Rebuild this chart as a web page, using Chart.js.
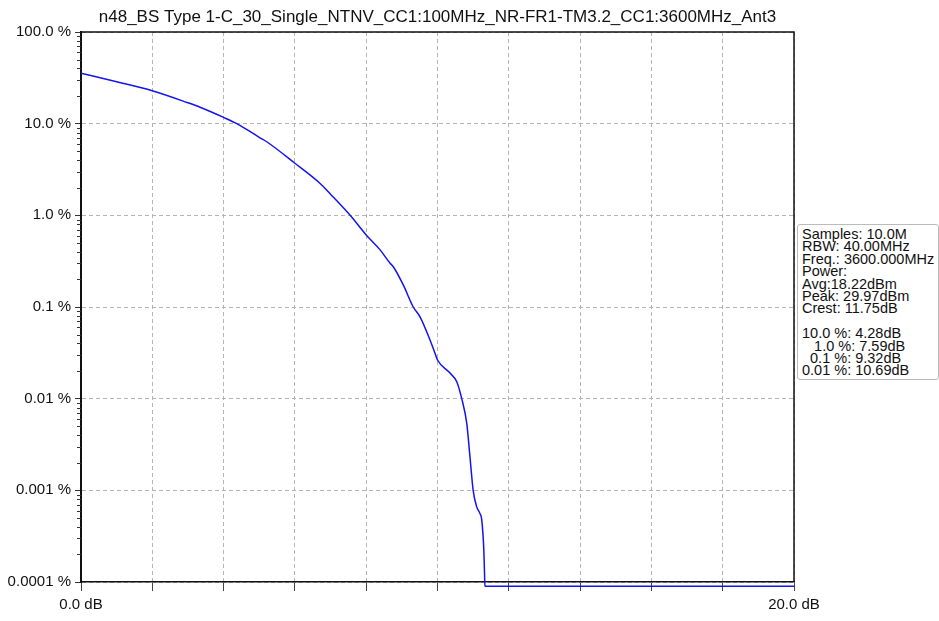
<!DOCTYPE html>
<html>
<head>
<meta charset="utf-8">
<script src="https://cdn.jsdelivr.net/npm/chart.js@4/dist/chart.umd.min.js"></script>
<style>
  body { margin: 0; background: #fff; }
  #wrap { position: relative; width: 939px; height: 621px; }
  #info {
    position: absolute; left: 797px; top: 224px; width: 136px; height: 151px;
    border: 1px solid #bbb; border-radius: 3px; background: #fff;
    font-family: "Liberation Sans", Arial, sans-serif; font-size: 14.5px;
    line-height: 12.4px; padding: 3px 0 0 4px; white-space: pre; color: #111;
    overflow: hidden;
  }
</style>
</head>
<body>
<div id="wrap">
  <canvas id="ccdf" width="939" height="621"></canvas>
  <div id="info"></div>
</div>
<script>
// chart title
const chartTitle = "n48_BS Type 1-C_30_Single_NTNV_CC1:100MHz_NR-FR1-TM3.2_CC1:3600MHz_Ant3";

// CCDF curve: power above average (dB) vs probability (%)
const dbValues = [0, 1, 2, 3, 3.34, 4, 4.37, 5, 5.21, 6, 6.7, 7, 7.55, 8, 8.39, 8.67, 8.76, 9.04,
  9.32, 9.51, 9.79, 9.93, 10.0, 10.35, 10.54, 10.68, 10.82, 10.91, 11.0, 11.1, 11.19, 11.24,
  11.3, 11.32, 11.33, 20];
const probValues = [35.5, 28.7, 22.9, 16.9, 15.1, 11.7, 10.0, 7.1, 6.35, 3.7, 2.24, 1.7, 1.0, 0.61,
  0.42, 0.30, 0.275, 0.174, 0.1, 0.078, 0.0437, 0.0313, 0.0264, 0.019, 0.0153, 0.01, 0.0054,
  0.00234, 0.001, 0.00066, 0.00056, 0.00048, 0.00022, 0.00012, 0.00009, 0.00009];

// axis ticks
const yTickValues = [100, 10, 1, 0.1, 0.01, 0.001, 0.0001];
const yTickLabels = ["100.0 %", "10.0 %", "1.0 %", "0.1 %", "0.01 %", "0.001 %", "0.0001 %"];
const xTickLabels = { 0: "0.0 dB", 20: "20.0 dB" };

// stats box text
const infoLines = [
  "Samples: 10.0M",
  "RBW: 40.00MHz",
  "Freq.: 3600.000MHz",
  "Power:",
  "Avg:18.22dBm",
  "Peak: 29.97dBm",
  "Crest: 11.75dB",
  "",
  "10.0 %: 4.28dB",
  "   1.0 %: 7.59dB",
  "  0.1 %: 9.32dB",
  "0.01 %: 10.69dB"
];
document.getElementById("info").textContent = infoLines.join("\n");

const FONT = "'Liberation Sans', Arial, sans-serif";

// title, frame and minor log ticks
const decorations = {
  id: "decorations",
  afterDraw(chart) {
    const ctx = chart.ctx;
    const a = chart.chartArea;
    const y = chart.scales.y;
    ctx.save();
    // minor ticks on the log axis
    ctx.strokeStyle = "#333";
    ctx.lineWidth = 1;
    for (let d = 0.0001; d < 100; d *= 10) {
      for (let k = 2; k <= 9; k++) {
        const py = Math.round(y.getPixelForValue(k * d)) + 0.5;
        ctx.beginPath();
        ctx.moveTo(a.left - 4, py);
        ctx.lineTo(a.left, py);
        ctx.stroke();
      }
    }
    // top and right frame
    ctx.strokeStyle = "#111";
    ctx.lineWidth = 1.5;
    ctx.beginPath();
    ctx.moveTo(a.left, a.top);
    ctx.lineTo(a.right, a.top);
    ctx.lineTo(a.right, a.bottom);
    ctx.stroke();
    // title
    ctx.fillStyle = "#111";
    ctx.font = "17px " + FONT;
    ctx.textAlign = "center";
    ctx.textBaseline = "middle";
    ctx.fillText(chartTitle, (a.left + a.right) / 2, 17);
    ctx.restore();
  }
};

new Chart(document.getElementById("ccdf"), {
  type: "line",
  plugins: [decorations],
  data: {
    datasets: [{
      data: dbValues.map((x, i) => ({ x: x, y: probValues[i] })),
      borderColor: "#1414f0",
      borderWidth: 1.5,
      pointRadius: 0,
      cubicInterpolationMode: "monotone",
      fill: false,
      clip: { left: 0, top: 0, right: 0, bottom: 8 }
    }]
  },
  options: {
    responsive: false,
    animation: false,
    devicePixelRatio: 1,
    layout: { padding: { top: 32, right: 145, left: 0, bottom: 0 } },
    plugins: {
      legend: { display: false },
      tooltip: { enabled: false },
      title: { display: false }
    },
    scales: {
      x: {
        type: "linear",
        min: 0,
        max: 20,
        afterFit: (s) => { s.height = 39; },
        ticks: {
          stepSize: 2,
          autoSkip: false,
          maxRotation: 0,
          padding: 5,
          color: "#111",
          font: { family: FONT, size: 15 },
          callback: (v) => xTickLabels[v] || ""
        },
        grid: {
          color: "#b4b4b4",
          lineWidth: 1,
          tickColor: "#444",
          tickLength: 9,
          tickBorderDash: []
        },
        border: { display: true, color: "#111", width: 1.5, dash: [4, 3] }
      },
      y: {
        type: "logarithmic",
        min: 0.0001,
        max: 100,
        afterFit: (s) => { s.width = 81; },
        afterBuildTicks: (s) => { s.ticks = yTickValues.map(v => ({ value: v, major: true })); },
        ticks: {
          autoSkip: false,
          padding: 4,
          color: "#111",
          font: { family: FONT, size: 15 },
          callback: (v) => yTickLabels[yTickValues.indexOf(v)]
        },
        grid: {
          color: "#b4b4b4",
          lineWidth: 1,
          tickColor: "#333",
          tickLength: 6,
          tickBorderDash: []
        },
        border: { display: true, color: "#111", width: 2, dash: [4, 3] }
      }
    }
  }
});
</script>
</body>
</html>
